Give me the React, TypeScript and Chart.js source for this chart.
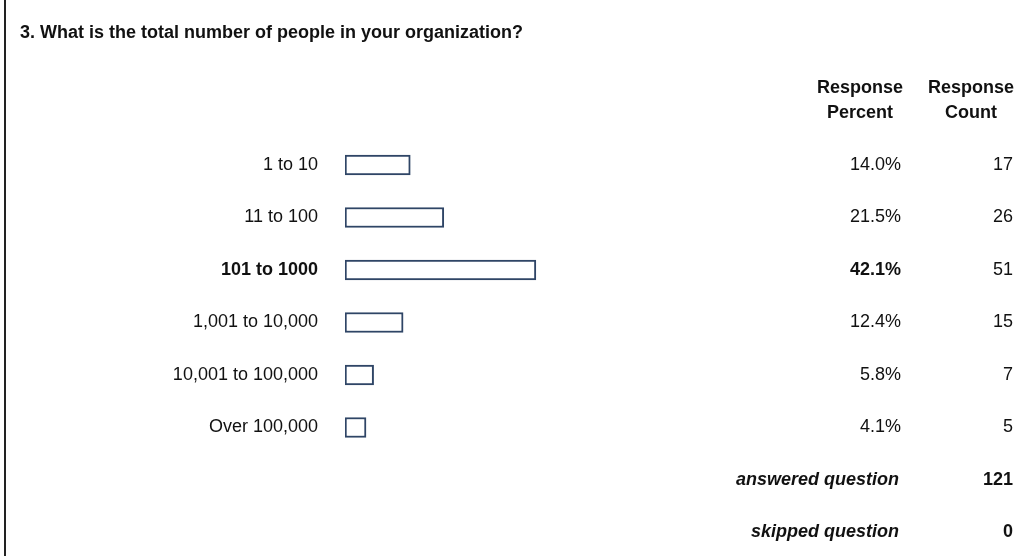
import React, { useEffect, useRef } from "react";
import { Chart, registerables } from "chart.js";

Chart.register(...registerables);

const title = "3. What is the total number of people in your organization?";
const categories = [
  "1 to 10",
  "11 to 100",
  "101 to 1000",
  "1,001 to 10,000",
  "10,001 to 100,000",
  "Over 100,000",
];
const percents = [14.0, 21.5, 42.1, 12.4, 5.8, 4.1];
const counts = [17, 26, 51, 15, 7, 5];
const headerPercent = ["Response", "Percent"];
const headerCount = ["Response", "Count"];
const summaryLabels = ["answered question", "skipped question"];
const summaryValues = [121, 0];

const FONT = "'Liberation Sans', Arial, Helvetica, sans-serif";
const TEXT = "#111111";
const BAR = "#2f4566";

export default function App() {
  const ref = useRef<HTMLCanvasElement | null>(null);

  useEffect(() => {
    const canvas = ref.current;
    if (!canvas) return;
    const maxIdx = percents.indexOf(Math.max(...percents));

    const tablePlugin = {
      id: "surveyTable",
      afterDraw(chart: any) {
        const ctx = chart.ctx as CanvasRenderingContext2D;
        const y = chart.scales.y;
        ctx.save();
        // left rule
        ctx.fillStyle = "#222222";
        ctx.fillRect(4, 0, 2, chart.height);

        ctx.fillStyle = TEXT;
        ctx.textBaseline = "middle";

        // title
        ctx.font = `bold 18px ${FONT}`;
        ctx.textAlign = "left";
        ctx.fillText(title, 20, 33);

        // headers
        ctx.textAlign = "center";
        ctx.fillText(headerPercent[0], 860, 88);
        ctx.fillText(headerPercent[1], 860, 113.5);
        ctx.fillText(headerCount[0], 971, 88);
        ctx.fillText(headerCount[1], 971, 113.5);

        // rows
        ctx.textAlign = "right";
        categories.forEach((_, i) => {
          const py = y.getPixelForValue(i);
          ctx.font = `${i === maxIdx ? "bold " : ""}18px ${FONT}`;
          ctx.fillText(percents[i].toFixed(1) + "%", 901, py);
          ctx.font = `18px ${FONT}`;
          ctx.fillText(String(counts[i]), 1013, py);
        });

        // summary
        summaryLabels.forEach((lab, k) => {
          const py = y.getPixelForValue(categories.length + k);
          ctx.font = `italic bold 18px ${FONT}`;
          ctx.fillText(lab, 899, py);
          ctx.font = `bold 18px ${FONT}`;
          ctx.fillText(String(summaryValues[k]), 1013, py);
        });
        ctx.restore();
      },
    };

    const chart = new Chart(canvas, {
      type: "bar",
      data: {
        labels: categories,
        datasets: [
          {
            data: percents,
            base: -0.6,
            backgroundColor: "#ffffff",
            borderColor: BAR,
            borderWidth: 2,
            borderSkipped: false,
            barThickness: 20,
          } as any,
        ],
      },
      options: {
        indexAxis: "y",
        animation: false,
        responsive: false,
        maintainAspectRatio: false,
        layout: {
          padding: { left: 0, right: 232.3, top: 138.75, bottom: 102.25 },
        },
        plugins: {
          legend: { display: false },
          tooltip: { enabled: false },
          title: { display: false },
        },
        scales: {
          x: {
            display: false,
            min: -0.6,
            max: 100,
          },
          y: {
            offset: true,
            grid: { display: false, drawTicks: false },
            border: { display: false },
            afterFit(scale: any) {
              scale.width = 345;
            },
            ticks: {
              padding: 27,
              color: TEXT,
              font: (c: any) => ({
                family: FONT,
                size: 18,
                weight: c.index === maxIdx ? "bold" : "normal",
              }),
            },
          },
        },
      } as any,
      plugins: [tablePlugin],
    });

    return () => chart.destroy();
  }, []);

  return (
    <div
      style={{
        position: "fixed",
        left: 0,
        top: 0,
        width: 1027,
        height: 556,
        background: "#ffffff",
      }}
    >
      <canvas ref={ref} width={1027} height={556} style={{ display: "block" }} />
    </div>
  );
}
